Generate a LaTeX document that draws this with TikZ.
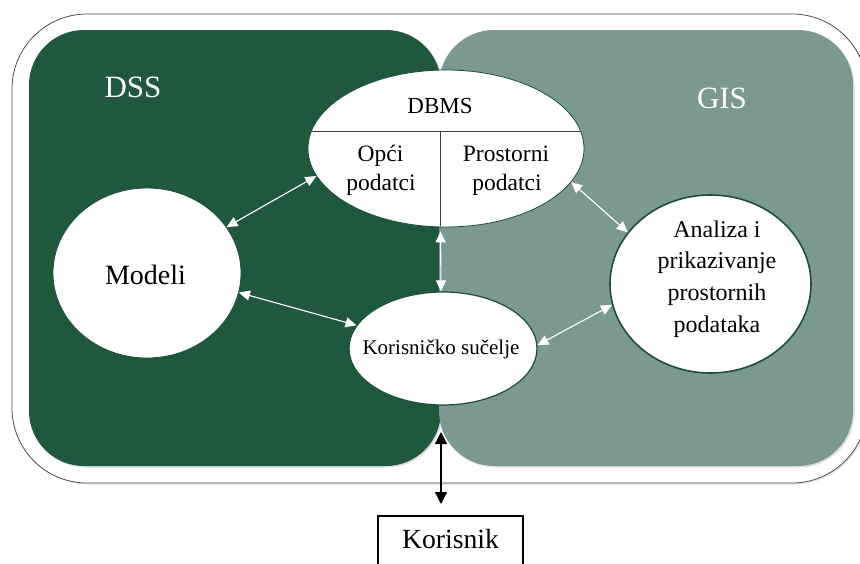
\documentclass[tikz,border=0pt]{standalone}
\usepackage{fontspec}
\setmainfont{Liberation Serif}
\usetikzlibrary{arrows.meta,shapes.geometric,shadows}
\definecolor{dssgreen}{RGB}{31,88,61}
\definecolor{gisgray}{RGB}{123,153,145}
\definecolor{edgegreen}{RGB}{28,78,54}
\begin{document}
\begin{tikzpicture}[x=1pt,y=-1pt,
  panel/.style={rounded corners=55pt, drop shadow={shadow xshift=1.5pt, shadow yshift=-1.5pt, opacity=0.25}},
  bubble/.style={ellipse, draw=edgegreen, fill=white, inner sep=0pt},
  lbl/.style={anchor=base, inner sep=0pt, text=black},
  ttl/.style={anchor=base, inner sep=0pt, text=white, font=\fontsize{31}{36}\selectfont},
  warrow/.style={draw=white, line width=1.1pt, {Triangle[length=11pt,width=10pt]}-{Triangle[length=11pt,width=10pt]}},
  barrow/.style={draw=black, line width=1.2pt, {Triangle[length=12pt,width=12pt]}-{Triangle[length=12pt,width=12pt]}},
  divider/.style={draw=black!75, line width=0.8pt}
]
\useasboundingbox (0,0) rectangle (860,563);
% outer frame
\draw[draw=black!70, line width=0.8pt, fill=white, rounded corners=75pt,
  drop shadow={shadow xshift=1.5pt, shadow yshift=-1.5pt, opacity=0.2}] (12,14) rectangle (867,483);
% panels
\fill[dssgreen, panel] (29,30) rectangle (441,466);
\fill[gisgray, panel] (439,30) rectangle (853,466);
% titles
\node[ttl] (dss) at (133,97) {DSS};
\node[ttl] (gis) at (722,108) {GIS};
% bubbles
\node[bubble, minimum width=188pt, minimum height=170pt, line width=0.8pt] (mod) at (147,273) {};
\node[bubble, minimum width=276pt, minimum height=157pt, line width=0.8pt] (dbms) at (446,148.5) {};
\node[bubble, minimum width=188pt, minimum height=113pt, line width=1.2pt] (kor) at (443,348.5) {};
\node[bubble, minimum width=201pt, minimum height=178pt, line width=1.6pt] (ana) at (710.5,284) {};
% DBMS dividers
\begin{scope}
  \clip (446,148.5) ellipse [x radius=137.5pt, y radius=78pt];
  \draw[divider] (300,131) -- (600,131);
  \draw[divider] (440,131) -- (440,240);
\end{scope}
% texts
\node[lbl, font=\fontsize{23}{28}\selectfont] (dbmst) at (440,113) {DBMS};
\node[lbl, font=\fontsize{23.5}{28}\selectfont] (op1) at (380.5,161) {Opći};
\node[lbl, font=\fontsize{23.5}{28}\selectfont] (op2) at (381,190) {podatci};
\node[lbl, font=\fontsize{23.5}{28}\selectfont] (pr1) at (506,161) {Prostorni};
\node[lbl, font=\fontsize{23.5}{28}\selectfont] (pr2) at (507,190) {podatci};
\node[lbl, font=\fontsize{28}{32}\selectfont] (modt) at (145.5,284) {Modeli};
\node[lbl, font=\fontsize{21}{25}\selectfont] (kort) at (441,354) {Korisničko sučelje};
\node[lbl, font=\fontsize{24}{28}\selectfont] (an1) at (717,237) {Analiza i};
\node[lbl, font=\fontsize{24}{28}\selectfont] (an2) at (717,268) {prikazivanje};
\node[lbl, font=\fontsize{24}{28}\selectfont] (an3) at (717,300) {prostornih};
\node[lbl, font=\fontsize{24}{28}\selectfont] (an4) at (717,332) {podataka};
% Korisnik box
\node[draw=black, line width=1.5pt, minimum width=145pt, anchor=north, inner xsep=0pt, inner ysep=0pt,
  text height=33pt, text depth=22pt, font=\fontsize{27.7}{33}\selectfont] (kbox) at (450.5,515) {Korisnik};
% connectors
\draw[warrow] (mod.30) -- (dbms.192);
\draw[warrow] (mod.-12) -- (kor.165);
\draw[warrow, shorten <=4pt] (dbms.-94) -- (kor.92);
\draw[warrow] (dbms.-15) -- (ana.148);
\draw[warrow] (kor.2) -- (ana.192);
\coordinate (ktop) at (441,432);
\draw[barrow, shorten >=11pt] (ktop) -- (ktop |- kbox.north);
\end{tikzpicture}
\end{document}
